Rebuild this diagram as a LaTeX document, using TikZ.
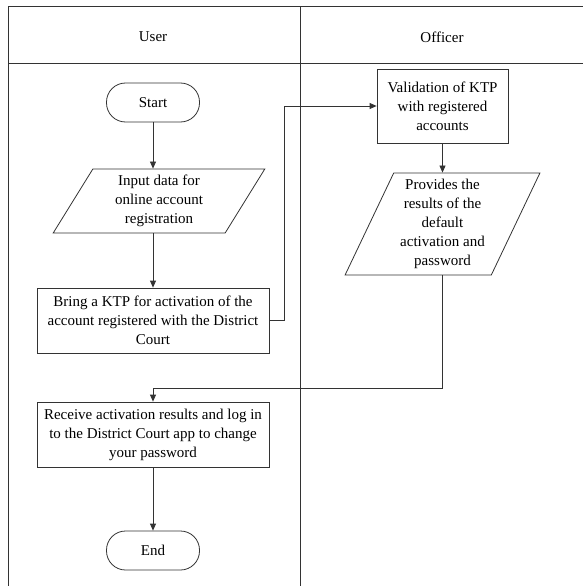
\documentclass[tikz,border=0pt]{standalone}
\usepackage{fontspec}
\setmainfont{Liberation Serif}
\usetikzlibrary{shapes.geometric,arrows.meta}
\begin{document}
\begin{tikzpicture}[x=1pt,y=-1pt,
    every node/.style={font=\fontsize{15}{19}\selectfont, align=center},
    terminal/.style ={rectangle, draw=black!80, line width=0.8pt, rounded corners=19pt, minimum width=93pt, minimum height=39pt},
    process/.style ={rectangle, draw=black!80, line width=0.8pt, inner sep=2pt},
    datain/.style ={trapezium, draw=black!80, line width=0.8pt, trapezium stretches=true, inner sep=1pt},
    flow/.style ={draw=black!80, line width=0.8pt, -{Triangle[length=7pt,width=6pt]}},
    lane/.style ={draw=black!80, line width=1pt}]
   \useasboundingbox (0,0) rectangle (583,586);
   % lanes
   \draw[lane] (8,586) -- (8,7) -- (583,7);
   \draw[lane] (8,64) -- (583,64);
   \draw[lane] (300,7) -- (300,586);
   \node (user) at (153,37) {User};
   \node (officer) at (442,37) {Officer};
   % user side
   \node[terminal] (start) at (153,102.5) {Start};
   \node[datain, minimum width=212pt, minimum height=64pt, trapezium left angle=63.4, trapezium right angle=116.6] (input) at (159,201) {Input data for\\online account\\registration};
   \node[process, minimum width=232pt, minimum height=65pt] (bring) at (153,320.5) {Bring a KTP for activation of the\\account registered with the District\\Court};
   \node[process, minimum width=232pt, minimum height=65pt] (receive) at (153,434.5) {Receive activation results and log in\\to the District Court app to change\\your password};
   \node[terminal] (end) at (153,550.5) {End};
   % officer side
   \node[process, minimum width=131pt, minimum height=74pt] (valid) at (442.5,106) {Validation of KTP\\with registered\\accounts};
   \node[datain, minimum width=195pt, minimum height=102pt, trapezium left angle=64.8, trapezium right angle=115.2] (provide) at (442.5,224) {Provides the\\results of the\\default\\activation and\\password};
   \coordinate (bendA) at (284,320.5);
   \coordinate (bendB) at (153,388);
   \draw[flow] (start) to (start |- input.north);
   \draw[flow] (start |- input.south) to (bring);
   \draw[flow] (bring) -- (bendA) |- (valid);
   \draw[flow] (valid) to (provide);
   \draw[flow] (provide.south) |- (bendB) -- (receive);
   \draw[flow] (receive) to (end);
 \end{tikzpicture}
\end{document}
